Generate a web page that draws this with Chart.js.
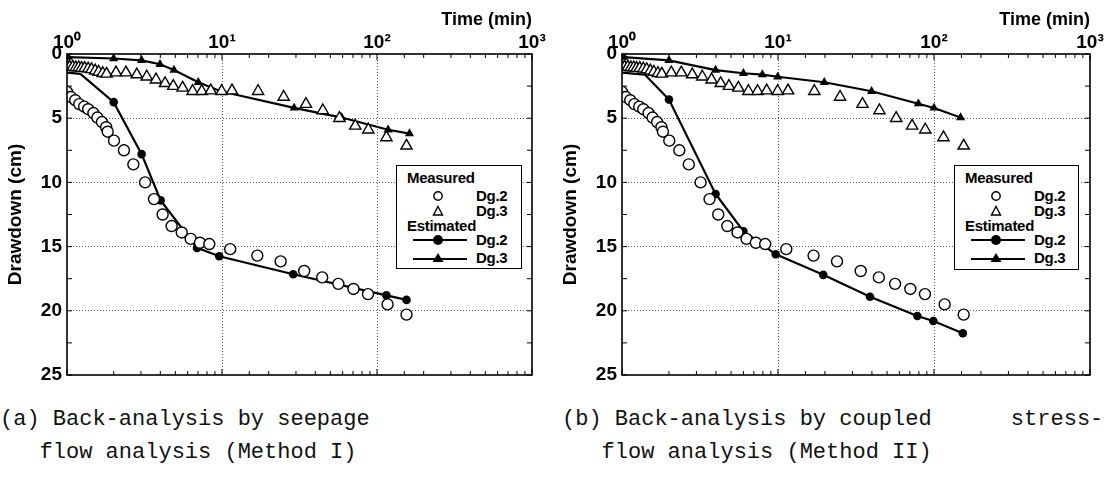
<!DOCTYPE html>
<html>
<head>
<meta charset="utf-8">
<script src="https://cdn.jsdelivr.net/npm/chart.js@4/dist/chart.umd.min.js"></script>
<style>
  html, body { margin:0; padding:0; background:#fff; }
  body { width:1114px; height:497px; position:relative; overflow:hidden; }
  .panel { position:absolute; top:0; }
  .legend { position:absolute; border:1.5px solid #000; background:#fff; box-sizing:border-box;
            font-family:"Liberation Sans", Arial, sans-serif; font-weight:bold; font-size:15px; color:#000; }
  .legend span { position:absolute; line-height:17px; white-space:nowrap; letter-spacing:-0.3px; }
  .legend svg { position:absolute; overflow:visible; }
  .cap { position:absolute; font-family:"Liberation Mono", "Courier New", monospace; font-size:22px;
         line-height:33px; white-space:pre; color:#111; }
</style>
</head>
<body>
<div class="panel" style="left:0;width:555px;height:400px"><canvas id="chartA" width="555" height="400"></canvas></div>
<div class="panel" style="left:555px;width:559px;height:400px"><canvas id="chartB" width="559" height="400"></canvas></div>

<div class="legend" id="legA" style="left:396px;top:165px;width:126px;height:104px"></div>
<div class="legend" id="legB" style="left:954px;top:165px;width:125px;height:105px"></div>

<div class="cap" style="left:0px;top:403px">(a) Back-analysis by seepage
   flow analysis (Method I)</div>
<div class="cap" style="left:562px;top:403px">(b) Back-analysis by coupled      stress-
   flow analysis (Method II)</div>

<script>
// ---------------- data ----------------
const xTickLabels = ['10\u2070', '10\u00b9', '10\u00b2', '10\u00b3'];
const yTickLabels = [0, 5, 10, 15, 20, 25];
const seriesNames = ['Dg.2', 'Dg.3'];

// Measured (same in both panels)
const measDg2Time = [1.0, 1.06, 1.13, 1.2, 1.29, 1.37, 1.48, 1.57, 1.68, 1.79, 1.83, 2.01, 2.33, 2.68, 3.19, 3.64, 4.14, 4.73, 5.5, 6.28, 7.21, 8.28, 11.3, 16.9, 23.9, 33.9, 44.3, 56.3, 70.5, 87.5, 117, 155];
const measDg2Draw = [2.95, 3.35, 3.6, 3.9, 4.1, 4.3, 4.6, 4.95, 5.3, 5.7, 6.05, 6.75, 7.5, 8.6, 10.0, 11.3, 12.5, 13.4, 13.9, 14.4, 14.7, 14.8, 15.2, 15.7, 16.15, 16.9, 17.4, 17.9, 18.3, 18.7, 19.5, 20.3];

const measDg3Time = [1.0, 1.04, 1.09, 1.14, 1.19, 1.24, 1.3, 1.37, 1.44, 1.52, 1.6, 1.7, 1.8, 2.07, 2.4, 2.82, 3.27, 3.75, 4.29, 4.85, 5.57, 6.46, 7.4, 8.46, 9.95, 11.6, 17.1, 25, 34.8, 44.7, 57.2, 72.4, 87.9, 115, 155];
const measDg3Draw = [0.95, 1.0, 1.0, 1.05, 1.05, 1.1, 1.1, 1.15, 1.2, 1.3, 1.4, 1.5, 1.55, 1.45, 1.45, 1.6, 1.77, 2.0, 2.28, 2.5, 2.64, 2.9, 2.9, 2.85, 2.9, 2.85, 2.9, 3.35, 3.9, 4.4, 5.0, 5.6, 5.9, 6.5, 7.15];

// Estimated, panel (a) Method I
const estA_Dg2Time = [1.0, 1.22, 2.0, 3.03, 4.02, 6.9, 9.6, 28.8, 115, 155];
const estA_Dg2Draw = [1.45, 1.55, 3.75, 7.8, 11.4, 15.1, 15.75, 17.15, 18.8, 19.15];
const estA_Dg3Time = [1.02, 2.0, 3.03, 3.98, 4.9, 7.03, 9.8, 29.2, 59.2, 118, 162];
const estA_Dg3Draw = [0.25, 0.35, 0.5, 0.8, 1.25, 2.2, 2.9, 4.2, 4.95, 5.9, 6.2];

// Estimated, panel (b) Method II
const estB_Dg2Time = [1.0, 1.4, 2.0, 3.98, 6.0, 9.67, 19.5, 38.9, 78.2, 99, 153];
const estB_Dg2Draw = [1.45, 1.6, 3.55, 10.9, 13.8, 15.6, 17.2, 18.9, 20.4, 20.8, 21.75];
const estB_Dg3Time = [1.03, 2.0, 3.98, 6.0, 7.94, 9.96, 19.8, 39.8, 79.4, 100, 148];
const estB_Dg3Draw = [0.25, 0.5, 1.25, 1.5, 1.6, 1.77, 2.2, 2.9, 3.87, 4.2, 4.95];

// number of leading unmarked vertices on estimated Dg.2 curves
const unmarkedLead = 2;

// ---------------- helpers ----------------
const pts = (xs, ys) => xs.map((x, i) => ({ x: x, y: ys[i] }));
const isDecade = v => { const e = Math.log10(v); return Math.abs(e - Math.round(e)) < 1e-9; };
const FONT = '"Liberation Sans", Arial, sans-serif';

const framePlugin = {
  id: 'frame',
  afterDatasetsDraw(chart) {
    const { ctx, chartArea: a, scales } = chart;
    ctx.save();
    ctx.strokeStyle = '#000';
    ctx.lineWidth = 1;
    ctx.beginPath();
    scales.x.ticks.forEach(t => {
      const px = scales.x.getPixelForValue(t.value);
      const len = isDecade(t.value) ? 6 : 4;
      ctx.moveTo(px, a.top); ctx.lineTo(px, a.top + len);
      ctx.moveTo(px, a.bottom); ctx.lineTo(px, a.bottom - len);
    });
    scales.y.ticks.forEach(t => {
      const py = scales.y.getPixelForValue(t.value);
      ctx.moveTo(a.left, py); ctx.lineTo(a.left + 5, py);
      ctx.moveTo(a.right, py); ctx.lineTo(a.right - 5, py);
    });
    ctx.stroke();
    ctx.lineWidth = 1.6;
    ctx.strokeRect(a.left, a.top, a.right - a.left, a.bottom - a.top);
    ctx.restore();
  }
};

function makeChart(id, estDg2T, estDg2D, estDg3T, estDg3D, padRight) {
  return new Chart(document.getElementById(id), {
    type: 'scatter',
    data: {
      datasets: [
        { label: 'Measured ' + seriesNames[0], data: pts(measDg2Time, measDg2Draw), showLine: false,
          pointStyle: 'circle', pointRadius: 5.5, pointBackgroundColor: '#fff', pointBorderColor: '#000',
          pointBorderWidth: 1.4, order: 0 },
        { label: 'Measured ' + seriesNames[1], data: pts(measDg3Time, measDg3Draw), showLine: false,
          pointStyle: 'triangle', pointRadius: 6.5, pointBackgroundColor: '#fff', pointBorderColor: '#000',
          pointBorderWidth: 1.4, order: 1 },
        { label: 'Estimated ' + seriesNames[0], data: pts(estDg2T, estDg2D), showLine: true,
          borderColor: '#000', borderWidth: 2.2, pointStyle: 'circle',
          pointRadius: c => (c.dataIndex < unmarkedLead ? 0 : 4.3), pointBackgroundColor: '#000',
          pointBorderColor: '#000', pointBorderWidth: 0, order: 2 },
        { label: 'Estimated ' + seriesNames[1], data: pts(estDg3T, estDg3D), showLine: true,
          borderColor: '#000', borderWidth: 2.2, pointStyle: 'triangle', pointRadius: 5.3,
          pointBackgroundColor: '#000', pointBorderColor: '#000', pointBorderWidth: 0, order: 3 }
      ]
    },
    options: {
      responsive: false,
      animation: false,
      devicePixelRatio: 1,
      layout: { padding: { left: 0, top: 0, right: padRight, bottom: 25 } },
      plugins: { legend: { display: false }, tooltip: { enabled: false } },
      scales: {
        x: {
          type: 'logarithmic', position: 'top', min: 1, max: 1000,
          afterFit: s => { s.height = 54; },
          title: { display: true, text: 'Time (min)', align: 'end', color: '#000',
                   font: { family: FONT, size: 18, weight: 'bold' }, padding: { top: 9, bottom: 0 } },
          ticks: {
            autoSkip: false, maxRotation: 0, padding: 0, color: '#000',
            font: { family: FONT, size: 19, weight: 'bold' },
            callback: v => (isDecade(v) ? xTickLabels[Math.round(Math.log10(v))] : '')
          },
          grid: { drawTicks: false, lineWidth: 1,
                  color: c => (c.tick && isDecade(c.tick.value) && c.tick.value > 1 && c.tick.value < 1000 ? '#555' : 'rgba(0,0,0,0)') },
          border: { display: false, dash: [1, 2] }
        },
        y: {
          type: 'linear', reverse: true, min: 0, max: 25,
          afterFit: s => { s.width = 67; },
          title: { display: true, text: 'Drawdown (cm)', color: '#000',
                   font: { family: FONT, size: 19, weight: 'bold' }, padding: { top: 4, bottom: 0 } },
          ticks: {
            stepSize: 2.5, autoSkip: false, padding: 5, color: '#000',
            font: { family: FONT, size: 19, weight: 'bold' },
            callback: v => (yTickLabels.includes(v) ? String(v) : '')
          },
          grid: { drawTicks: false, lineWidth: 1,
                  color: c => (c.tick && c.tick.value % 5 === 0 && c.tick.value > 0 && c.tick.value < 25 ? '#555' : 'rgba(0,0,0,0)') },
          border: { display: false, dash: [1, 2] }
        }
      }
    },
    plugins: [framePlugin]
  });
}

makeChart('chartA', estA_Dg2Time, estA_Dg2Draw, estA_Dg3Time, estA_Dg3Draw, 23);
makeChart('chartB', estB_Dg2Time, estB_Dg2Draw, estB_Dg3Time, estB_Dg3Draw, 24);

// ---------------- legends (HTML text) ----------------
function buildLegend(el) {
  const symX = 41, txtX = 79;
  const rows = [
    { kind: 'head', text: 'Measured', cy: 12 },
    { kind: 'openCircle', text: seriesNames[0], cy: 30 },
    { kind: 'openTri', text: seriesNames[1], cy: 45 },
    { kind: 'head', text: 'Estimated', cy: 60 },
    { kind: 'lineCircle', text: seriesNames[0], cy: 74 },
    { kind: 'lineTri', text: seriesNames[1], cy: 92 }
  ];
  let html = '';
  rows.forEach(r => {
    if (r.kind === 'head') {
      html += `<span style="left:10px;top:${r.cy - 9}px">${r.text}</span>`;
      return;
    }
    let svg = '';
    if (r.kind === 'openCircle') {
      svg = `<svg style="left:${symX - 6}px;top:${r.cy - 6}px" width="12" height="12"><circle cx="6" cy="6" r="4.2" fill="#fff" stroke="#000" stroke-width="1.4"/></svg>`;
    } else if (r.kind === 'openTri') {
      svg = `<svg style="left:${symX - 6}px;top:${r.cy - 6}px" width="12" height="12"><polygon points="6,1.5 10.5,10 1.5,10" fill="#fff" stroke="#000" stroke-width="1.4"/></svg>`;
    } else if (r.kind === 'lineCircle') {
      svg = `<svg style="left:16px;top:${r.cy - 7}px" width="54" height="14"><line x1="0" y1="7" x2="54" y2="7" stroke="#000" stroke-width="2"/><circle cx="${symX - 16}" cy="7" r="5" fill="#000"/></svg>`;
    } else {
      svg = `<svg style="left:16px;top:${r.cy - 7}px" width="54" height="14"><line x1="0" y1="8" x2="54" y2="8" stroke="#000" stroke-width="2"/><polygon points="${symX - 16},2 ${symX - 10.5},11 ${symX - 21.5},11" fill="#000"/></svg>`;
    }
    html += svg + `<span style="left:${txtX}px;top:${r.cy - 9}px">${r.text}</span>`;
  });
  el.innerHTML = html;
}
buildLegend(document.getElementById('legA'));
buildLegend(document.getElementById('legB'));
</script>
</body>
</html>
